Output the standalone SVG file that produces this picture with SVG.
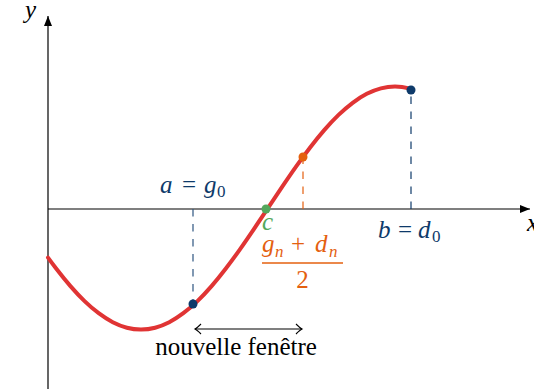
<svg xmlns="http://www.w3.org/2000/svg" width="534" height="389" viewBox="0 0 534 389">
<style>
text { font-family: "Liberation Serif", "DejaVu Serif", serif; font-size: 25px; }
.it { font-style: italic; }
.sub { font-size: 17px; }
.navy { fill: #0e3a6a; }
.orange { fill: #e4600f; }
.green { fill: #54a85c; }
.axis { stroke: #000; stroke-width: 1.2; fill: none; }
.dash { stroke-width: 1.2; stroke-dasharray: 7.5 7.5; fill: none; }
.curve { stroke: #e03434; stroke-width: 4; fill: none; stroke-linejoin: round; stroke-linecap: round; }
</style>
<defs>
<marker id="tri" viewBox="-10 -5 10 10" refX="0" refY="0" markerWidth="10" markerHeight="10" markerUnits="userSpaceOnUse" orient="auto">
<path d="M-10,-4 L0,0 L-10,4 Z" fill="#000"/>
</marker>
<marker id="open" viewBox="-8 -6 10 12" refX="0" refY="0" markerWidth="10" markerHeight="12" markerUnits="userSpaceOnUse" orient="auto-start-reverse">
<path d="M-6,-5 Q-2,-1 0,0 Q-2,1 -6,5" fill="none" stroke="#000" stroke-width="1.1"/>
</marker>
</defs>

<g id="connectors">
<line class="axis" x1="48" y1="389" x2="48" y2="16" marker-end="url(#tri)"/>
<line class="axis" x1="48" y1="209" x2="530" y2="209" marker-end="url(#tri)"/>
<line class="dash" stroke="#2d5580" x1="193" y1="209" x2="193" y2="304"/>
<line class="dash" stroke="#e4600f" x1="303" y1="209" x2="303" y2="157"/>
<line class="dash" stroke="#0e3a6a" x1="411" y1="209" x2="411" y2="90"/>
<line class="axis" x1="195" y1="329" x2="302" y2="329" marker-start="url(#open)" marker-end="url(#open)" stroke-width="1.1"/>
</g>

<g id="curve">
<path class="curve" d="M48,257.6 C50.78,261.41 53.55,265.13 56.33,268.75 C61.03,274.87 65.74,280.69 70.44,286.1 C75.14,291.52 79.86,296.56 84.56,301.1 C89.26,305.64 93.97,309.67 98.67,313.2 C103.37,316.74 108.08,319.78 112.78,322.2 C117.48,324.62 122.19,326.47 126.89,327.7 C131.59,328.93 136.3,329.5 141,329.5 C145.7,329.5 150.41,328.93 155.11,327.7 C159.81,326.47 164.52,324.62 169.22,322.2 C173.92,319.78 178.63,316.74 183.33,313.2 C188.03,309.67 192.74,305.64 197.44,301.1 C202.14,296.56 206.86,291.52 211.56,286.1 C216.26,280.69 220.97,274.87 225.67,268.75 C230.37,262.63 235.08,256.24 239.78,249.6 C244.48,242.96 249.19,236.06 253.89,229.1 C258.59,222.14 263.3,215.07 268,208 C272.7,200.93 277.41,193.86 282.11,186.9 C286.81,179.94 291.52,173.04 296.22,166.4 C300.92,159.76 305.63,153.37 310.33,147.25 C315.03,141.13 319.74,135.32 324.44,129.9 C329.14,124.49 333.86,119.44 338.56,114.9 C343.26,110.36 347.97,106.34 352.67,102.8 C357.37,99.27 362.08,96.22 366.78,93.8 C371.48,91.38 376.19,89.58 380.89,88.35 C385.59,87.12 390.3,86.5 395,86.5 C399.7,86.5 404.41,87.12 409.11,88.35 L411,88.9"/>
</g>

<g id="axis-labels">
<text class="it" x="25" y="18">y</text>
<text class="it" x="527" y="231">x</text>
</g>

<g id="point-a">
<circle class="navy" cx="193" cy="304" r="4.5"/>
<text class="navy"><tspan class="it" x="160" y="193">a</tspan><tspan x="182" y="193">=</tspan><tspan class="it" x="204" y="193">g</tspan><tspan class="sub" x="217" y="197">0</tspan></text>
</g>

<g id="point-b">
<circle class="navy" cx="411" cy="90" r="4.5"/>
<text class="navy"><tspan class="it" x="378" y="238">b</tspan><tspan x="398" y="238">=</tspan><tspan class="it" x="418" y="238">d</tspan><tspan class="sub" x="432" y="242">0</tspan></text>
</g>

<g id="point-c">
<circle class="green" cx="266" cy="209" r="4.5"/>
<text class="it green" x="262" y="230">c</text>
</g>

<g id="midpoint">
<circle class="orange" cx="303" cy="157" r="4.5"/>
<text class="orange"><tspan class="it" x="262" y="252">g</tspan><tspan class="it sub" x="275" y="257">n</tspan><tspan x="291" y="252">+</tspan><tspan class="it" x="315" y="252">d</tspan><tspan class="it sub" x="329" y="257">n</tspan></text>
<line x1="262" y1="263" x2="343" y2="263" stroke="#e4600f" stroke-width="1.3"/>
<text class="orange" x="302.5" y="288" text-anchor="middle">2</text>
</g>

<g id="window-label">
<text x="236" y="355" text-anchor="middle">nouvelle fenêtre</text>
</g>
</svg>
